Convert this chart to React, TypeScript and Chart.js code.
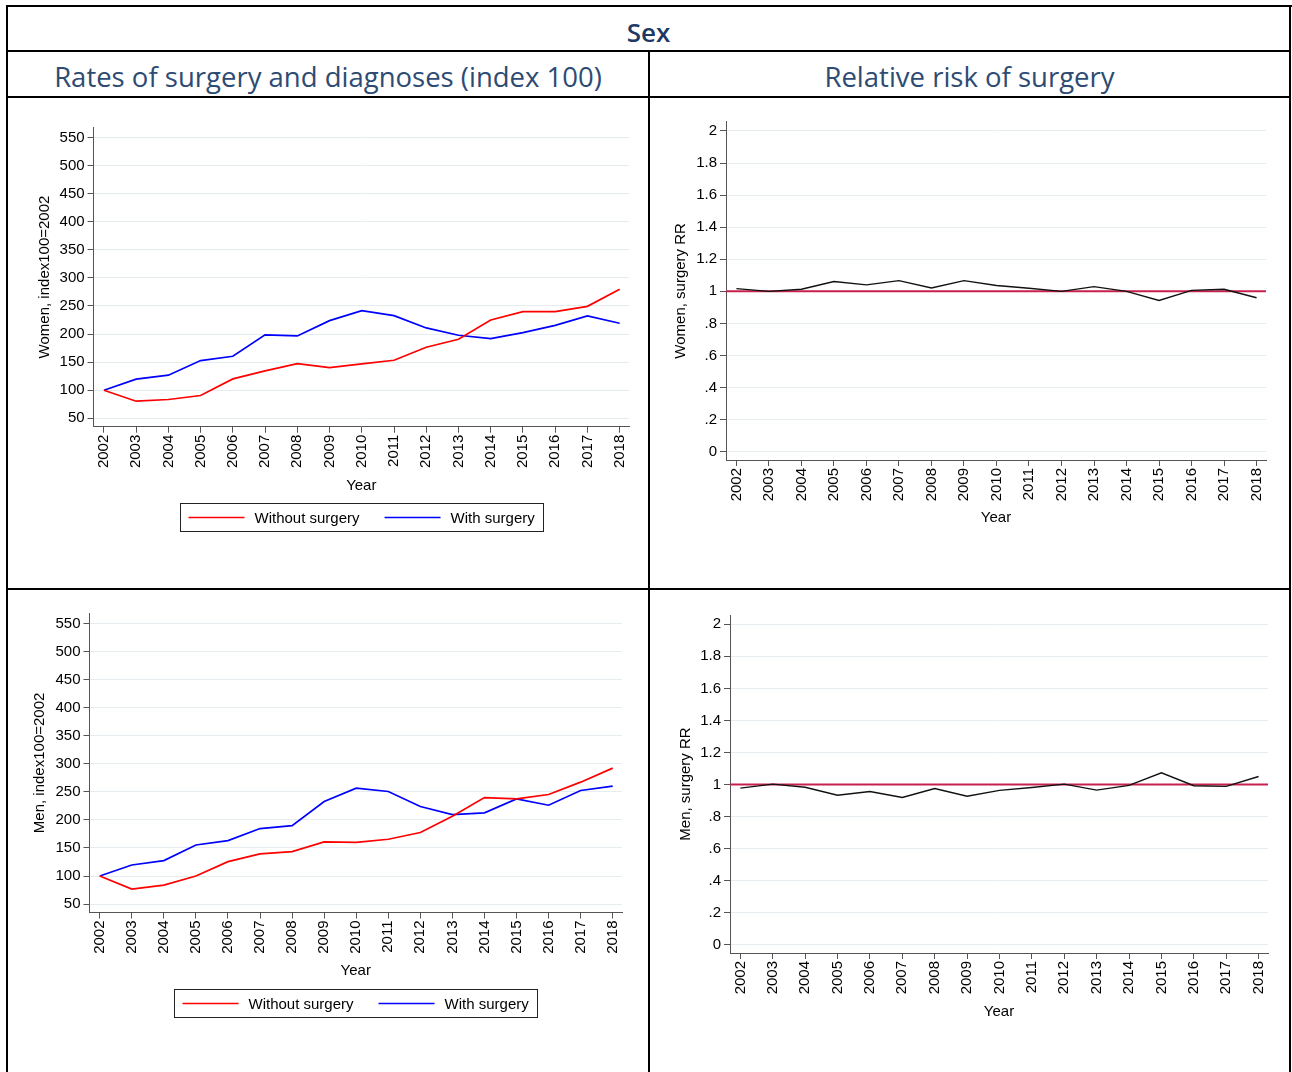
import React, { useEffect, useRef } from 'react';
import { Chart, registerables } from 'chart.js';

Chart.register(...registerables);

// ---------- data ----------
const years = [2002, 2003, 2004, 2005, 2006, 2007, 2008, 2009, 2010, 2011, 2012, 2013, 2014, 2015, 2016, 2017, 2018];

const womenWithoutSurgery = [100, 80.4, 83.4, 90.5, 120.1, 134.4, 147.4, 140.3, 146.8, 153.3, 176.4, 190.6, 225, 239.8, 239.8, 249.3, 279.5];
const womenWithSurgery = [100, 119.6, 126.7, 152.7, 160.4, 198.4, 196.6, 223.8, 241.6, 232.7, 210.8, 197.8, 191.8, 202.5, 215.5, 232.1, 219.1];

const menWithoutSurgery = [100, 76.8, 83.9, 100, 125.6, 139.3, 143.4, 160.7, 160.1, 165.5, 177.4, 206.5, 239.8, 237.4, 245.2, 267.2, 292.2];
const menWithSurgery = [100, 119.6, 127.4, 155.3, 163.1, 184.5, 189.8, 232.7, 256.5, 250.5, 223.8, 209.5, 212.5, 237.4, 226.1, 252.3, 260.1];

const womenRR = [1.017, 1.0, 1.013, 1.061, 1.04, 1.067, 1.021, 1.067, 1.036, 1.019, 1.0, 1.029, 1.0, 0.943, 1.006, 1.013, 0.96];
const menRR = [0.977, 1.002, 0.983, 0.933, 0.956, 0.919, 0.975, 0.927, 0.963, 0.981, 1.002, 0.965, 0.994, 1.073, 0.992, 0.988, 1.05];

const indexTicks = [50, 100, 150, 200, 250, 300, 350, 400, 450, 500, 550];
const rrTicks = [0, 0.2, 0.4, 0.6, 0.8, 1, 1.2, 1.4, 1.6, 1.8, 2];
const rrReference = 1;

const seriesLabels = ['Without surgery', 'With surgery'];
const xTitle = 'Year';
const headerTitle = 'Sex';
const columnTitles = ['Rates of surgery and diagnoses (index 100)', 'Relative risk of surgery'];

// ---------- styles ----------
const FONT_FAMILY = '"Liberation Sans", Arial, sans-serif';
const TICK_FONT = { family: FONT_FAMILY, size: 15 };
const AXIS_COLOR = '#555555';
const GRID_COLOR = '#e5edf0';

const boxLegendPlugin = {
  id: 'boxLegend',
  afterDraw(chart: any, _args: any, opts: any) {
    if (!opts || !opts.display) return;
    const { ctx, chartArea } = chart;
    ctx.save();
    ctx.font = `15px ${FONT_FAMILY}`;
    const items = chart.data.datasets.map((ds: any) => ({ text: ds.label, color: ds.borderColor }));
    const lineLen = 56, padL = 8, gapText = 10, gapItem = 25, padR = 9, h = 28;
    const widths = items.map((it: any) => ctx.measureText(it.text).width);
    let total = padL + padR;
    items.forEach((_it: any, k: number) => {
      total += lineLen + gapText + widths[k];
      if (k > 0) total += gapItem;
    });
    const cx = (chartArea.left + chartArea.right) / 2;
    const x0 = Math.round(cx - total / 2) + 0.5;
    const y0 = Math.round(chartArea.bottom + opts.offset) + 0.5;
    ctx.strokeStyle = '#222';
    ctx.lineWidth = 1;
    ctx.strokeRect(x0, y0, Math.round(total), h);
    let x = x0 + padL;
    const cy = y0 + h / 2;
    items.forEach((it: any, k: number) => {
      ctx.strokeStyle = it.color;
      ctx.lineWidth = 1.5;
      ctx.beginPath();
      ctx.moveTo(x, cy);
      ctx.lineTo(x + lineLen, cy);
      ctx.stroke();
      x += lineLen + gapText;
      ctx.fillStyle = '#000';
      ctx.textBaseline = 'middle';
      ctx.textAlign = 'left';
      ctx.fillText(it.text, x, cy + 1);
      x += widths[k] + gapItem;
    });
    ctx.restore();
  },
};

const refLinePlugin = {
  id: 'refLine',
  beforeDatasetsDraw(chart: any, _args: any, opts: any) {
    if (!opts || opts.value == null) return;
    const { ctx, chartArea } = chart;
    const y = chart.scales.y.getPixelForValue(opts.value);
    ctx.save();
    ctx.strokeStyle = opts.color;
    ctx.lineWidth = opts.width;
    ctx.beginPath();
    ctx.moveTo(chartArea.left, y);
    ctx.lineTo(chartArea.right, y);
    ctx.stroke();
    ctx.restore();
  },
};

type PanelProps = {
  left: number;
  top: number;
  width: number;
  height: number;
  kind: 'index' | 'rr';
  yTitle: string;
  series: number[][];
  yWidth: number;
  yTitlePad: number;
  xTitlePad: number;
  pad: { top: number; right: number; bottom: number };
};

function Panel(p: PanelProps) {
  const ref = useRef<HTMLCanvasElement | null>(null);
  useEffect(() => {
    if (!ref.current) return;
    const isIndex = p.kind === 'index';
    const colors = isIndex ? ['rgb(255,0,0)', 'rgb(0,0,255)'] : ['#111111'];
    const datasets = p.series.map((vals, i) => ({
      label: isIndex ? seriesLabels[i] : p.yTitle,
      data: years.map((yr, k) => ({ x: yr, y: vals[k] })),
      borderColor: colors[i],
      backgroundColor: colors[i],
      borderWidth: isIndex ? 1.7 : 1.4,
      pointRadius: 0,
      tension: 0,
      fill: false,
    }));
    const yTicks = isIndex ? indexTicks : rrTicks;
    const chart = new Chart(ref.current, {
      type: 'line',
      data: { datasets },
      plugins: isIndex ? [boxLegendPlugin] : [refLinePlugin],
      options: {
        animation: false,
        responsive: false,
        maintainAspectRatio: false,
        layout: { padding: { left: 0, top: p.pad.top, right: p.pad.right, bottom: p.pad.bottom } },
        plugins: {
          legend: { display: false },
          tooltip: { enabled: false },
          boxLegend: { display: true, offset: 76 },
          refLine: { value: rrReference, color: '#c8204c', width: 2 },
        } as any,
        scales: {
          x: {
            type: 'linear',
            min: 2001.68,
            max: 2018.29,
            afterBuildTicks: (axis: any) => {
              axis.ticks = years.map((v) => ({ value: v }));
            },
            afterFit: (s: any) => {
              s.height = 70;
            },
            ticks: {
              autoSkip: false,
              minRotation: 90,
              maxRotation: 90,
              padding: 2,
              color: '#000',
              font: TICK_FONT,
              callback: (v: any) => String(v),
            },
            grid: { drawOnChartArea: false, drawTicks: true, tickLength: 6, tickColor: AXIS_COLOR, tickWidth: 1 },
            border: { display: true, color: AXIS_COLOR, width: 1 },
            title: { display: true, text: xTitle, color: '#000', font: TICK_FONT, padding: { top: 0, bottom: p.xTitlePad } },
          },
          y: {
            type: 'linear',
            min: isIndex ? 35 : -0.052,
            max: isIndex ? 568 : 2.058,
            afterBuildTicks: (axis: any) => {
              axis.ticks = yTicks.map((v) => ({ value: v }));
            },
            afterFit: (s: any) => {
              s.width = p.yWidth;
            },
            ticks: {
              color: '#000',
              font: TICK_FONT,
              padding: 3,
              callback: (v: any) => {
                if (isIndex) return String(v);
                const s = String(Number(Number(v).toFixed(1)));
                return s.replace(/^0\./, '.');
              },
            },
            grid: { color: GRID_COLOR, lineWidth: 1, tickColor: AXIS_COLOR, tickLength: 6, tickWidth: 1 },
            border: { display: true, color: AXIS_COLOR, width: 1 },
            title: { display: true, text: p.yTitle, color: '#000', font: TICK_FONT, padding: { top: p.yTitlePad, bottom: 0 } },
          },
        },
      } as any,
    });
    return () => chart.destroy();
  }, []);
  return (
    <canvas
      ref={ref}
      width={p.width}
      height={p.height}
      style={{ position: 'absolute', left: p.left, top: p.top, width: p.width, height: p.height }}
    />
  );
}

const line = (left: number, top: number, width: number, height: number) => (
  <div style={{ position: 'absolute', left, top, width, height, background: '#000' }} />
);

export default function App() {
  const headFont = '"Open Sans", "Noto Sans", sans-serif';
  return (
    <div style={{ position: 'absolute', left: 0, top: 0, width: 1292, height: 1072, overflow: 'hidden', background: '#fff' }}>
      <div
        style={{
          position: 'absolute', left: 8, top: 10, width: 1281, textAlign: 'center',
          fontFamily: headFont, fontSize: 26, fontWeight: 600, color: '#1f3864', lineHeight: '44px', height: 44,
        }}
      >
        {headerTitle}
      </div>
      <div
        style={{
          position: 'absolute', left: 8, top: 55, width: 640, textAlign: 'center', whiteSpace: 'nowrap',
          fontFamily: headFont, fontSize: 27.5, color: '#2d4b73', lineHeight: '44px', height: 44,
        }}
      >
        {columnTitles[0]}
      </div>
      <div
        style={{
          position: 'absolute', left: 650, top: 55, width: 639, textAlign: 'center', whiteSpace: 'nowrap',
          fontFamily: headFont, fontSize: 27.5, color: '#2d4b73', lineHeight: '44px', height: 44,
        }}
      >
        {columnTitles[1]}
      </div>

      <Panel left={8} top={98} width={640} height={490} kind="index" yTitle="Women, index100=2002"
        series={[womenWithoutSurgery, womenWithSurgery]} yWidth={85.6} yTitlePad={28} xTitlePad={1.7}
        pad={{ top: 29.3, right: 19, bottom: 91.3 }} />
      <Panel left={650} top={98} width={640} height={490} kind="rr" yTitle="Women, surgery RR"
        series={[womenRR]} yWidth={76} yTitlePad={22} xTitlePad={3}
        pad={{ top: 23.7, right: 24, bottom: 58 }} />
      <Panel left={8} top={590} width={640} height={482} kind="index" yTitle="Men, index100=2002"
        series={[menWithoutSurgery, menWithSurgery]} yWidth={81.5} yTitlePad={23} xTitlePad={2.5}
        pad={{ top: 23.3, right: 26, bottom: 89.5 }} />
      <Panel left={650} top={590} width={640} height={482} kind="rr" yTitle="Men, surgery RR"
        series={[menRR]} yWidth={80} yTitlePad={27} xTitlePad={2}
        pad={{ top: 25, right: 22, bottom: 49 }} />

      {line(6, 5, 1286, 2)}
      {line(6, 5, 2, 1067)}
      {line(1289, 5, 2, 1067)}
      {line(6, 50, 1285, 2)}
      {line(6, 96, 1285, 2)}
      {line(6, 588, 1285, 2)}
      {line(648, 50, 2, 1022)}
    </div>
  );
}
